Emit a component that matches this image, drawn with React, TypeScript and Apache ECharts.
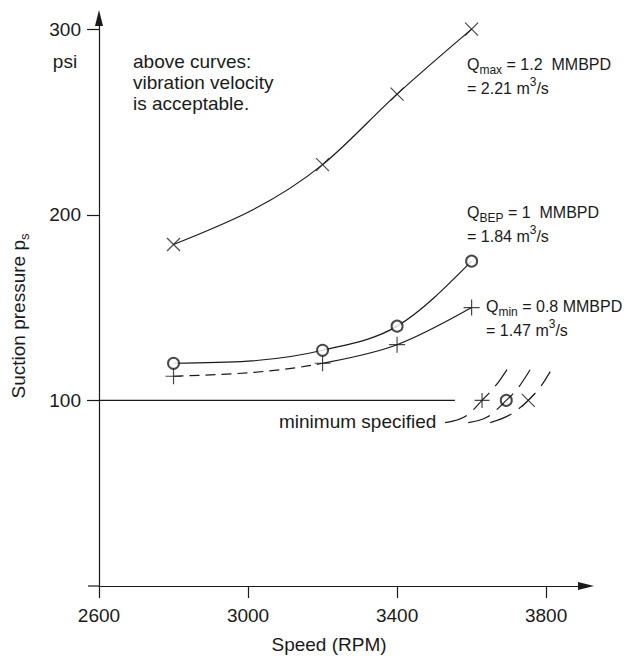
import React, { useEffect, useRef } from 'react';
import * as echarts from 'echarts';

const speedTicks = [2600, 3000, 3400, 3800];
const pressureTicks = [100, 200, 300];
const testSpeeds = [2800, 3200, 3400, 3600];
const qmaxPressure = [184, 227, 265, 300];
const qbepPressure = [120, 127, 140, 175];
const qminPressure = [113, 120, 130, 150];
const minSpecPressure = 100;
const minSpecLineSpeeds = [2600, 3555];
const minSpecPointSpeeds = [3628, 3693, 3752];
const extrapQminSpeeds = [3529, 3588, 3628, 3671, 3695];
const extrapQminPressure = [88, 92, 100, 109.6, 116.6];
const extrapQbepSpeeds = [3591, 3642, 3693, 3722, 3757];
const extrapQbepPressure = [88, 91, 100, 106, 116.5];
const extrapQmaxSpeeds = [3650, 3709, 3752, 3789, 3811];
const extrapQmaxPressure = [88, 93, 100, 108.5, 115.5];

const INK = '#1a1a1a';
const FONT = "'Liberation Sans', Arial, sans-serif";
const CROSS = 'path://M0,0L10,10M10,0L0,10';
const PLUS = 'path://M5,0L5,10M0,5L10,5';

const pairs = (xs: number[], ys: number[]) => xs.map((x, i) => [x, ys[i]]);

// Hermite-spline path (in pixel space) through given pixel points, for segments [from, to)
function splinePath(p: number[][], from: number, to: number): string {
  const n = p.length;
  const h: number[] = [];
  const s: number[] = [];
  for (let i = 0; i < n - 1; i++) {
    h.push(p[i + 1][0] - p[i][0]);
    s.push((p[i + 1][1] - p[i][1]) / h[i]);
  }
  const m: number[] = new Array(n);
  for (let i = 1; i < n - 1; i++) {
    m[i] = (s[i - 1] * h[i] + s[i] * h[i - 1]) / (h[i - 1] + h[i]);
  }
  if (n === 2) {
    m[0] = s[0];
    m[1] = s[0];
  } else {
    m[0] = (3 * s[0] - m[1]) / 2;
    m[n - 1] = (3 * s[n - 2] - m[n - 2]) / 2;
  }
  let d = `M${p[from][0]},${p[from][1]}`;
  for (let i = from; i < to; i++) {
    const dx = h[i] / 3;
    const c1 = [p[i][0] + dx, p[i][1] + m[i] * dx];
    const c2 = [p[i + 1][0] - dx, p[i + 1][1] - m[i + 1] * dx];
    d += `C${c1[0]},${c1[1]} ${c2[0]},${c2[1]} ${p[i + 1][0]},${p[i + 1][1]}`;
  }
  return d;
}

function curveSeries(name: string, data: number[][], parts: { from: number; to: number; dash?: number[] }[]) {
  return {
    name,
    type: 'custom',
    data,
    encode: { x: 0, y: 1 },
    silent: true,
    z: 2,
    renderItem: (params: any, api: any) => {
      if (params.dataIndex !== 0) return null;
      const pts = data.map((d) => api.coord(d));
      return {
        type: 'group',
        children: parts.map((pt) => ({
          type: 'path',
          shape: { pathData: splinePath(pts, pt.from, pt.to) },
          style: { stroke: INK, fill: 'none', lineWidth: 1.2, lineDash: pt.dash || null },
        })),
      };
    },
  };
}

const qRich = {
  t: { fontSize: 16, fontFamily: FONT, fill: INK, lineHeight: 24 },
  s: { fontSize: 12, fontFamily: FONT, fill: INK, verticalAlign: 'bottom' },
  p: { fontSize: 12, fontFamily: FONT, fill: INK, verticalAlign: 'top' },
};

export default function App() {
  const ref = useRef<HTMLDivElement>(null);
  useEffect(() => {
    if (!ref.current) return;
    const chart = echarts.init(ref.current, undefined, { renderer: 'svg' });
    const markerStyle = { color: INK, borderColor: INK, borderWidth: 1.2 };
    chart.setOption({
      animation: false,
      backgroundColor: '#fff',
      grid: { left: 99, right: 41, top: 18, bottom: 70, outerBoundsMode: 'none' },
      xAxis: {
        type: 'value',
        min: 2600,
        max: 3907,
        splitLine: { show: false },
        axisLine: {
          show: true,
          symbol: ['none', 'triangle'],
          symbolSize: [8, 16],
          lineStyle: { color: INK, width: 1.2 },
        },
        axisTick: { show: true, length: 12, customValues: speedTicks, lineStyle: { color: INK, width: 1.2 } },
        axisLabel: {
          customValues: speedTicks, margin: 20, fontSize: 19, fontFamily: FONT, color: INK,
          formatter: (v: number) => String(v),
        },
      },
      yAxis: {
        type: 'value',
        min: 0,
        max: 306,
        splitLine: { show: false },
        axisLine: {
          show: true,
          symbol: ['none', 'triangle'],
          symbolSize: [8, 16],
          lineStyle: { color: INK, width: 1.2 },
        },
        axisTick: { show: true, length: 12, customValues: pressureTicks, lineStyle: { color: INK, width: 1.2 } },
        axisLabel: {
          customValues: pressureTicks, margin: 18, fontSize: 19, fontFamily: FONT, color: INK,
          formatter: (v: number) => String(v),
        },
      },
      graphic: [
        { type: 'line', shape: { x1: 88, y1: 586, x2: 99, y2: 586 }, style: { stroke: INK, lineWidth: 1.2 } },
        {
          type: 'text', x: 18.5, y: 316, rotation: Math.PI / 2,
          style: {
            text: '{t|Suction pressure p}{s|s}',
            rich: {
              t: { fontSize: 19, fontFamily: FONT, fill: INK, lineHeight: 24 },
              s: { fontSize: 13, fontFamily: FONT, fill: INK, verticalAlign: 'bottom' },
            },
            textAlign: 'center', textVerticalAlign: 'middle',
          },
        },
        {
          type: 'text', x: 329, y: 644.5,
          style: { text: 'Speed (RPM)', fontSize: 19, fontFamily: FONT, fill: INK, textAlign: 'center', textVerticalAlign: 'middle' },
        },
        {
          type: 'text', x: 65, y: 61.5,
          style: { text: 'psi', fontSize: 19, fontFamily: FONT, fill: INK, textAlign: 'center', textVerticalAlign: 'middle' },
        },
        {
          type: 'text', x: 133, y: 51,
          style: {
            text: 'above curves:\nvibration velocity\nis acceptable.',
            fontSize: 19, fontFamily: FONT, fill: INK, lineHeight: 21, textAlign: 'left', textVerticalAlign: 'top',
          },
        },
        {
          type: 'text', x: 279, y: 421.4,
          style: { text: 'minimum specified', fontSize: 19, fontFamily: FONT, fill: INK, textAlign: 'left', textVerticalAlign: 'middle' },
        },
        {
          type: 'text', x: 467, y: 52,
          style: { text: '{t|Q}{s|max}{t| = 1.2  MMBPD}\n{t|= 2.21 m}{p|3}{t|/s}', rich: qRich, textAlign: 'left', textVerticalAlign: 'top' },
        },
        {
          type: 'text', x: 467, y: 200,
          style: { text: '{t|Q}{s|BEP}{t| = 1  MMBPD}\n{t|= 1.84 m}{p|3}{t|/s}', rich: qRich, textAlign: 'left', textVerticalAlign: 'top' },
        },
        {
          type: 'text', x: 486, y: 294,
          style: { text: '{t|Q}{s|min}{t| = 0.8 MMBPD}\n{t|= 1.47 m}{p|3}{t|/s}', rich: qRich, textAlign: 'left', textVerticalAlign: 'top' },
        },
      ],
      series: [
        curveSeries('Qmax curve', pairs(testSpeeds, qmaxPressure), [{ from: 0, to: 3 }]),
        curveSeries('QBEP curve', pairs(testSpeeds, qbepPressure), [{ from: 0, to: 3 }]),
        curveSeries('Qmin curve', pairs(testSpeeds, qminPressure), [
          { from: 0, to: 1, dash: [10, 6] },
          { from: 1, to: 3 },
        ]),
        {
          name: 'minimum specified',
          type: 'line',
          data: minSpecLineSpeeds.map((s) => [s, minSpecPressure]),
          showSymbol: false,
          lineStyle: { color: INK, width: 1.2 },
        },
        {
          name: 'Qmax points',
          type: 'scatter',
          data: pairs(testSpeeds, qmaxPressure),
          symbol: CROSS,
          symbolSize: 13,
          itemStyle: markerStyle,
          z: 3,
        },
        {
          name: 'QBEP points',
          type: 'scatter',
          data: pairs(testSpeeds, qbepPressure),
          symbol: 'emptyCircle',
          symbolSize: 11,
          itemStyle: markerStyle,
          z: 3,
        },
        {
          name: 'Qmin points',
          type: 'scatter',
          data: pairs(testSpeeds, qminPressure),
          symbol: PLUS,
          symbolSize: 16,
          itemStyle: markerStyle,
          z: 3,
        },
        {
          name: 'minimum points',
          type: 'scatter',
          data: [
            { value: [minSpecPointSpeeds[0], minSpecPressure], symbol: PLUS, symbolSize: 15 },
            { value: [minSpecPointSpeeds[1], minSpecPressure], symbol: 'emptyCircle', symbolSize: 11 },
            { value: [minSpecPointSpeeds[2], minSpecPressure], symbol: CROSS, symbolSize: 13 },
          ],
          itemStyle: markerStyle,
          z: 3,
        },
        {
          ...curveSeries('Qmin extrapolation', pairs(extrapQminSpeeds, extrapQminPressure), [{ from: 0, to: 4, dash: [23, 9] }]),
          z: 4,
        },
        {
          ...curveSeries('QBEP extrapolation', pairs(extrapQbepSpeeds, extrapQbepPressure), [{ from: 0, to: 4, dash: [23, 9] }]),
          z: 4,
        },
        {
          ...curveSeries('Qmax extrapolation', pairs(extrapQmaxSpeeds, extrapQmaxPressure), [{ from: 0, to: 4, dash: [23, 9] }]),
          z: 4,
        },
      ],
    });
    return () => chart.dispose();
  }, []);
  return <div ref={ref} style={{ position: 'fixed', left: 0, top: 0, width: 627, height: 656 }} />;
}
